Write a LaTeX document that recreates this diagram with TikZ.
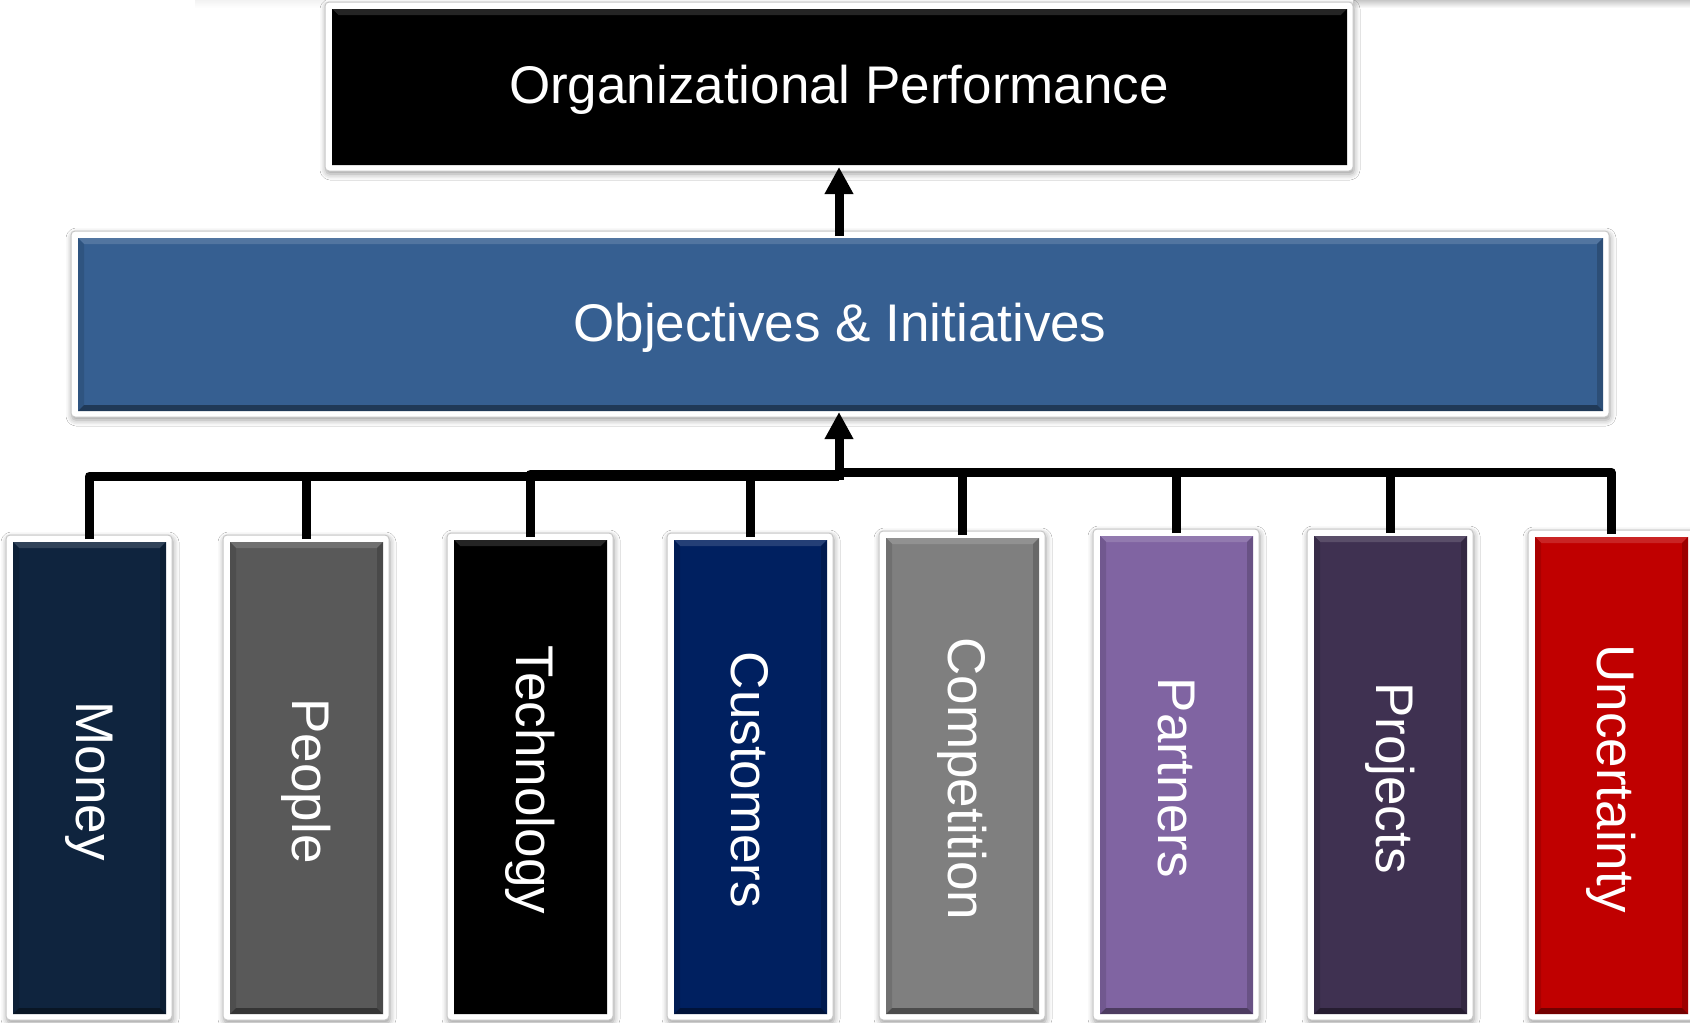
\documentclass[tikz,border=0pt]{standalone}
\usepackage{fontspec}
\setmainfont{Liberation Sans}
\usetikzlibrary{arrows.meta,fit,shadows.blur}

% panel colours
\definecolor{perfc}{HTML}{000000}
\definecolor{objc}{HTML}{365F91}
\definecolor{moneyc}{HTML}{0F243E}
\definecolor{peoplec}{HTML}{595959}
\definecolor{techc}{HTML}{000000}
\definecolor{custc}{HTML}{002060}
\definecolor{compc}{HTML}{7F7F7F}
\definecolor{partc}{HTML}{8064A2}
\definecolor{projc}{HTML}{3F3151}
\definecolor{uncc}{HTML}{C00000}

\tikzset{
  frame/.style={draw=black!22, line width=1pt, fill=white, rounded corners=4pt,
    inner sep=0pt, outer sep=0pt,
    blur shadow={shadow xshift=1pt, shadow yshift=-3pt, shadow blur radius=6pt, shadow opacity=40}},
  caption/.style={text=white, font=\fontsize{53}{60}\selectfont, inner sep=0pt},
  link/.style={line width=9pt, line join=round, draw=black},
  uparrow/.style={link, -{Triangle[width=27pt,length=27pt]}},
}

% a white framed panel holding a bevelled coloured face and a caption
% #1 name, #2 left, #3 top, #4 right, #5 bottom, #6 colour, #7 rotation, #8 caption
\newcommand\slab[8]{%
  \node[frame, fit={(#2,#3) (#4,#5)}] (#1) {};
  \pgfmathsetmacro\faceL{#2+7}\pgfmathsetmacro\faceT{#3+7}%
  \pgfmathsetmacro\faceR{#4-6}\pgfmathsetmacro\faceB{#5-6}%
  \pgfmathsetmacro\bevL{\faceL+6}\pgfmathsetmacro\bevT{\faceT+6}%
  \pgfmathsetmacro\bevR{\faceR-6}\pgfmathsetmacro\bevB{\faceB-6}%
  \fill[#6] (\faceL,\faceT) rectangle (\faceR,\faceB);
  \fill[#6!86!white] (\faceL,\faceT) -- (\faceR,\faceT) -- (\bevR,\bevT) -- (\bevL,\bevT) -- cycle;
  \fill[#6!88!black] (\faceL,\faceT) -- (\bevL,\bevT) -- (\bevL,\bevB) -- (\faceL,\faceB) -- cycle;
  \fill[#6!82!black] (\faceR,\faceT) -- (\bevR,\bevT) -- (\bevR,\bevB) -- (\faceR,\faceB) -- cycle;
  \fill[#6!60!black] (\faceL,\faceB) -- (\faceR,\faceB) -- (\bevR,\bevB) -- (\bevL,\bevB) -- cycle;
  \node[caption, rotate=#7] (#1-label) at ([yshift=-3.5pt]#1.center) {#8};
}

\begin{document}
\begin{tikzpicture}[x=1pt,y=-1pt]
\useasboundingbox (0,0) rectangle (1690,1023);
\fill[white] (0,0) rectangle (1690,1023);

% faint bands along the upper edge
\shade[top color=black!22, bottom color=white] (1353,0) rectangle (1690,8);
\shade[top color=black!5, bottom color=white] (195,0) rectangle (325,8);

% upper levels
\slab{perf}{325}{2}{1353}{171}{perfc}{0}{Organizational Performance}
\slab{obj}{71}{231}{1609}{417}{objc}{0}{Objectives \& Initiatives}

% drivers
\slab{money}{6}{535}{172}{1020}{moneyc}{-90}{Money}
\slab{people}{223}{535}{389}{1020}{peoplec}{-90}{People}
\slab{tech}{447}{533}{613}{1020}{techc}{-90}{Technology}
\slab{cust}{667}{533}{833}{1020}{custc}{-90}{Customers}
\slab{comp}{879}{531}{1045}{1020}{compc}{-90}{Competition}
\slab{part}{1093}{529}{1259}{1020}{partc}{-90}{Partners}
\slab{proj}{1307}{529}{1473}{1020}{projc}{-90}{Projects}
\slab{unc}{1528}{530}{1694}{1020}{uncc}{-90}{Uncertainty}

% junctions of the collecting bus
\coordinate (hubL) at (839,476);
\coordinate (hubM) at (839,474);
\coordinate (hubR) at (839,472);

% bus from every driver
\draw[link] ([yshift=-4pt]money.north) |- (hubL);
\draw[link] ([yshift=-4pt]people.north) |- (hubL);
\draw[link] ([yshift=-4pt]tech.north) |- (hubM);
\draw[link] ([yshift=-4pt]cust.north) |- (hubM);
\draw[link] ([yshift=-4pt]comp.north) |- (hubR);
\draw[link] ([yshift=-4pt]part.north) |- (hubR);
\draw[link] ([yshift=-4pt]proj.north) |- (hubR);
\draw[link] ([yshift=-4pt]unc.north) |- (hubR);

% arrows upward
\draw[uparrow] ([yshift=-4pt]hubL) -- ([yshift=5pt]hubL |- obj.south);
\draw[uparrow] ([yshift=-5pt]perf.south |- obj.north) -- ([yshift=4pt]perf.south);
\end{tikzpicture}
\end{document}
